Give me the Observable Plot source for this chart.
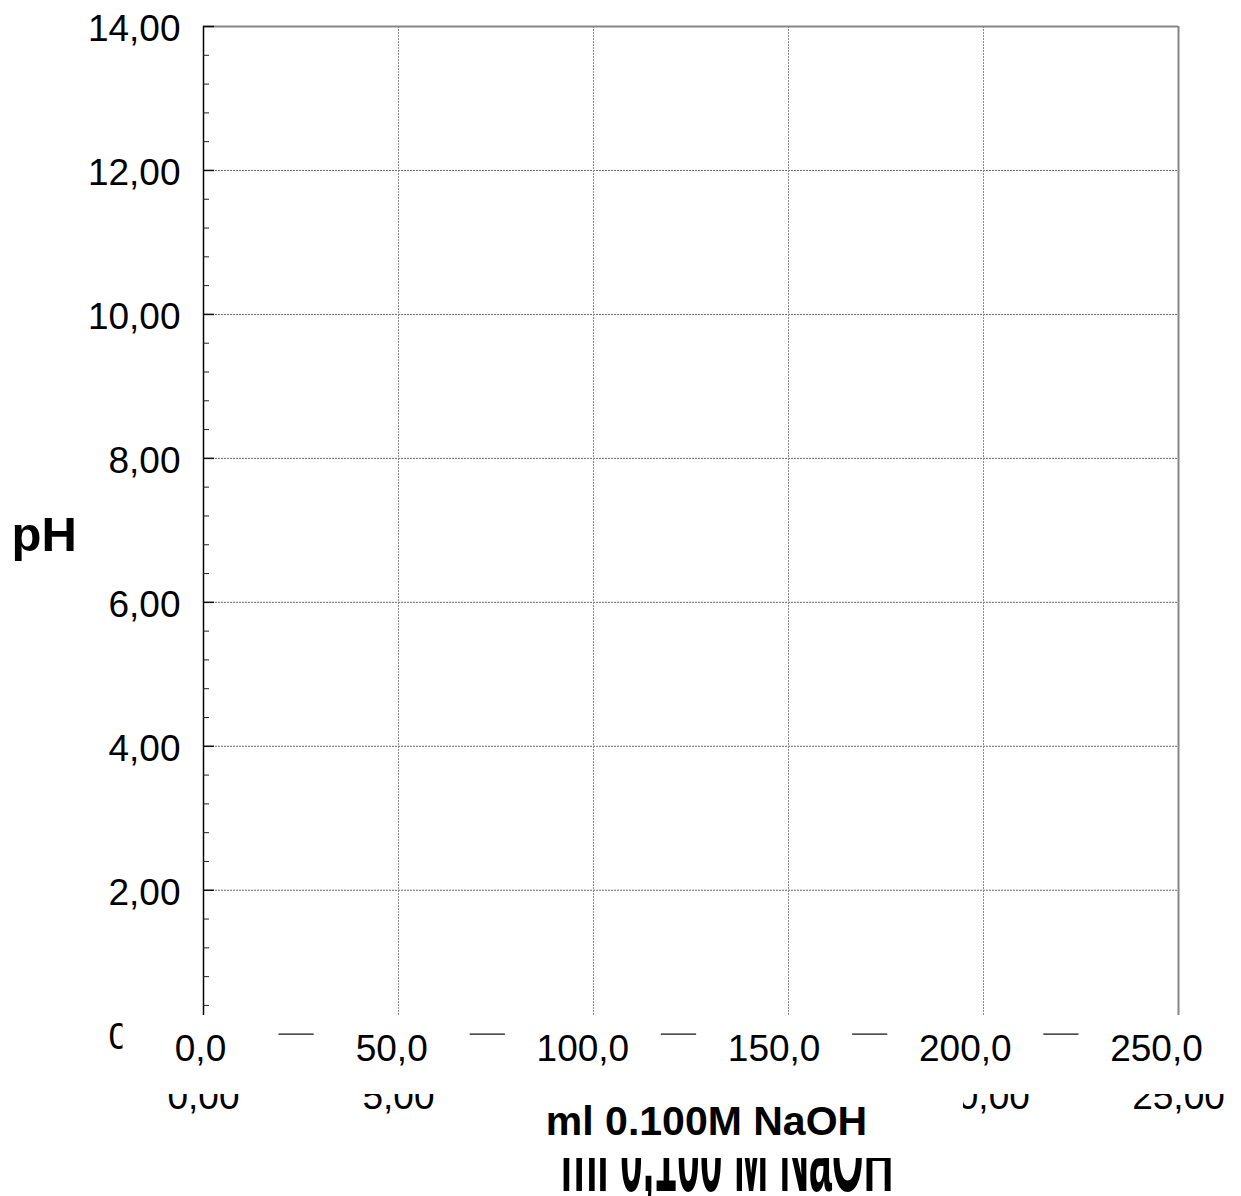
<!DOCTYPE html>
<html><head><meta charset="utf-8">
<script src="https://cdn.jsdelivr.net/npm/d3@7"></script>
<script src="https://cdn.jsdelivr.net/npm/@observablehq/plot@0.6"></script>
<style>
body{margin:0;background:#fff}
#wrap{position:relative;width:1241px;height:1196px;overflow:hidden}
#wrap svg{position:absolute;left:0;top:0}
</style>
</head><body><div id="wrap"></div>
<script>
// ---- data (the chart contains no series; only axes, grid and labels) ----
const xTicks = [0, 50, 100, 150, 200, 250];
const xTickLabels = ["0,0", "50,0", "100,0", "150,0", "200,0", "250,0"];
const xTickLabelsBack = ["0,00", "5,00", "10,00", "15,00", "20,00", "25,00"];
const xGrid = [50, 100, 150, 200];
const yTicks = [2, 4, 6, 8, 10, 12, 14];
const yTickLabels = ["2,00", "4,00", "6,00", "8,00", "10,00", "12,00", "14,00"];
const yGrid = [2, 4, 6, 8, 10, 12];
const yMinor = [0.4, 0.8, 1.2, 1.6, 2.4, 2.8, 3.2, 3.6, 4.4, 4.8, 5.2, 5.6, 6.4, 6.8, 7.2, 7.6,
                8.4, 8.8, 9.2, 9.6, 10.4, 10.8, 11.2, 11.6, 12.4, 12.8, 13.2, 13.6];
const yZero = [0];
const yZeroLabel = ["0,00"];
const yTitle = "pH";
const titleFront = "ml 0.100M NaOH";
const titleBack = "ml 0,100 M NaOH";

const W = 1241, H = 1196;
const mL = 203, mR = 63, mT = 26, mB = 181;
const frameW = W - mL - mR;
const font = "'Liberation Sans', Arial, Helvetica, sans-serif";

const main = Plot.plot({
  width: W, height: H,
  marginLeft: mL, marginRight: mR, marginTop: mT, marginBottom: mB,
  x: {domain: [0, 250], axis: null},
  y: {domain: [0.26, 14], axis: null},
  style: {fontFamily: font, background: "white", color: "black", overflow: "visible"},
  marks: [
    // --- underlying (back) layer ---
    Plot.ruleY(yZero, {x1: 0, x2: 250, stroke: "#111", strokeWidth: 1.3}),
    Plot.text(yZero, {y: d => d, text: (d, i) => yZeroLabel[i], frameAnchor: "left", textAnchor: "end",
      dx: -23, dy: 3, fontSize: 37, fill: "black"}),
    Plot.text(xTicks, {x: d => d, text: (d, i) => xTickLabelsBack[i], frameAnchor: "bottom",
      lineAnchor: "bottom", dy: 93, fontSize: 37, fill: "black"}),
    Plot.text([titleBack], {text: d => d, frameAnchor: "bottom", lineAnchor: "bottom",
      dx: 36, dy: 175, fontSize: 41, fontWeight: "bold", fill: "black"}),
    // title box of front layer
    Plot.frame({fill: "white", stroke: "white", insetLeft: 251, insetRight: 216, insetTop: 1059, insetBottom: -142}),
    // --- front layer ---
    Plot.ruleY(yGrid, {stroke: "#6a6a6a", strokeDasharray: "2,1", strokeWidth: 1}),
    Plot.ruleX(xGrid, {stroke: "#8a8a8a", strokeDasharray: "2,1", strokeWidth: 1}),
    Plot.ruleY([14], {stroke: "#858585", strokeWidth: 2}),
    Plot.ruleX([250], {stroke: "#858585", strokeWidth: 2}),
    Plot.ruleX([0], {stroke: "black", strokeWidth: 1.5}),
    Plot.tickY(yMinor, {y: d => d, stroke: "#222", strokeWidth: 1, insetRight: frameW - 6}),
    Plot.tickY(yTicks, {y: d => d, stroke: "#111", strokeWidth: 1.5, insetRight: frameW - 11}),
    Plot.text(yTicks, {y: d => d, text: (d, i) => yTickLabels[i], frameAnchor: "left", textAnchor: "end",
      dx: -23, dy: 3, fontSize: 37, fill: "black"}),
    Plot.text([yTitle], {text: d => d, frameAnchor: "left", textAnchor: "start", dx: -192,
      lineAnchor: "bottom", dy: 29.5, fontSize: 49, fontWeight: "bold", fill: "black"}),
    Plot.text([titleFront], {text: d => d, frameAnchor: "bottom", lineAnchor: "bottom",
      dx: 15.5, dy: 119, fontSize: 41, fontWeight: "bold", fill: "black"})
  ]
});

// x tick labels of the front layer, each on its own white label box
const over = Plot.plot({
  width: W, height: 76,
  marginLeft: 200, marginRight: 85, marginTop: 0, marginBottom: 0,
  x: {domain: [0, 250], axis: null},
  style: {fontFamily: font, background: "transparent", color: "black", overflow: "visible"},
  marks: [
    Plot.ruleX(xTicks, {stroke: "white", strokeWidth: 156}),
    Plot.text(xTicks, {x: d => d, text: (d, i) => xTickLabels[i], frameAnchor: "top", lineAnchor: "top",
      dy: 16, fontSize: 37, fill: "black"})
  ]
});

const wrap = document.getElementById("wrap");
wrap.append(main, over);
over.style.top = "1018px";

// the back-layer title is vertically stretched
const t = [...main.querySelectorAll("text")].find(e => e.textContent === titleBack);
if (t) {
  const s = 2.5;
  const tr = t.getAttribute("transform");
  if (tr) t.setAttribute("transform", tr + ` scale(1,${s})`);
  else {
    const y = +t.getAttribute("y") || 0;
    t.setAttribute("transform", `translate(0,${y}) scale(1,${s}) translate(0,${-y})`);
  }
}
</script>
</body></html>
